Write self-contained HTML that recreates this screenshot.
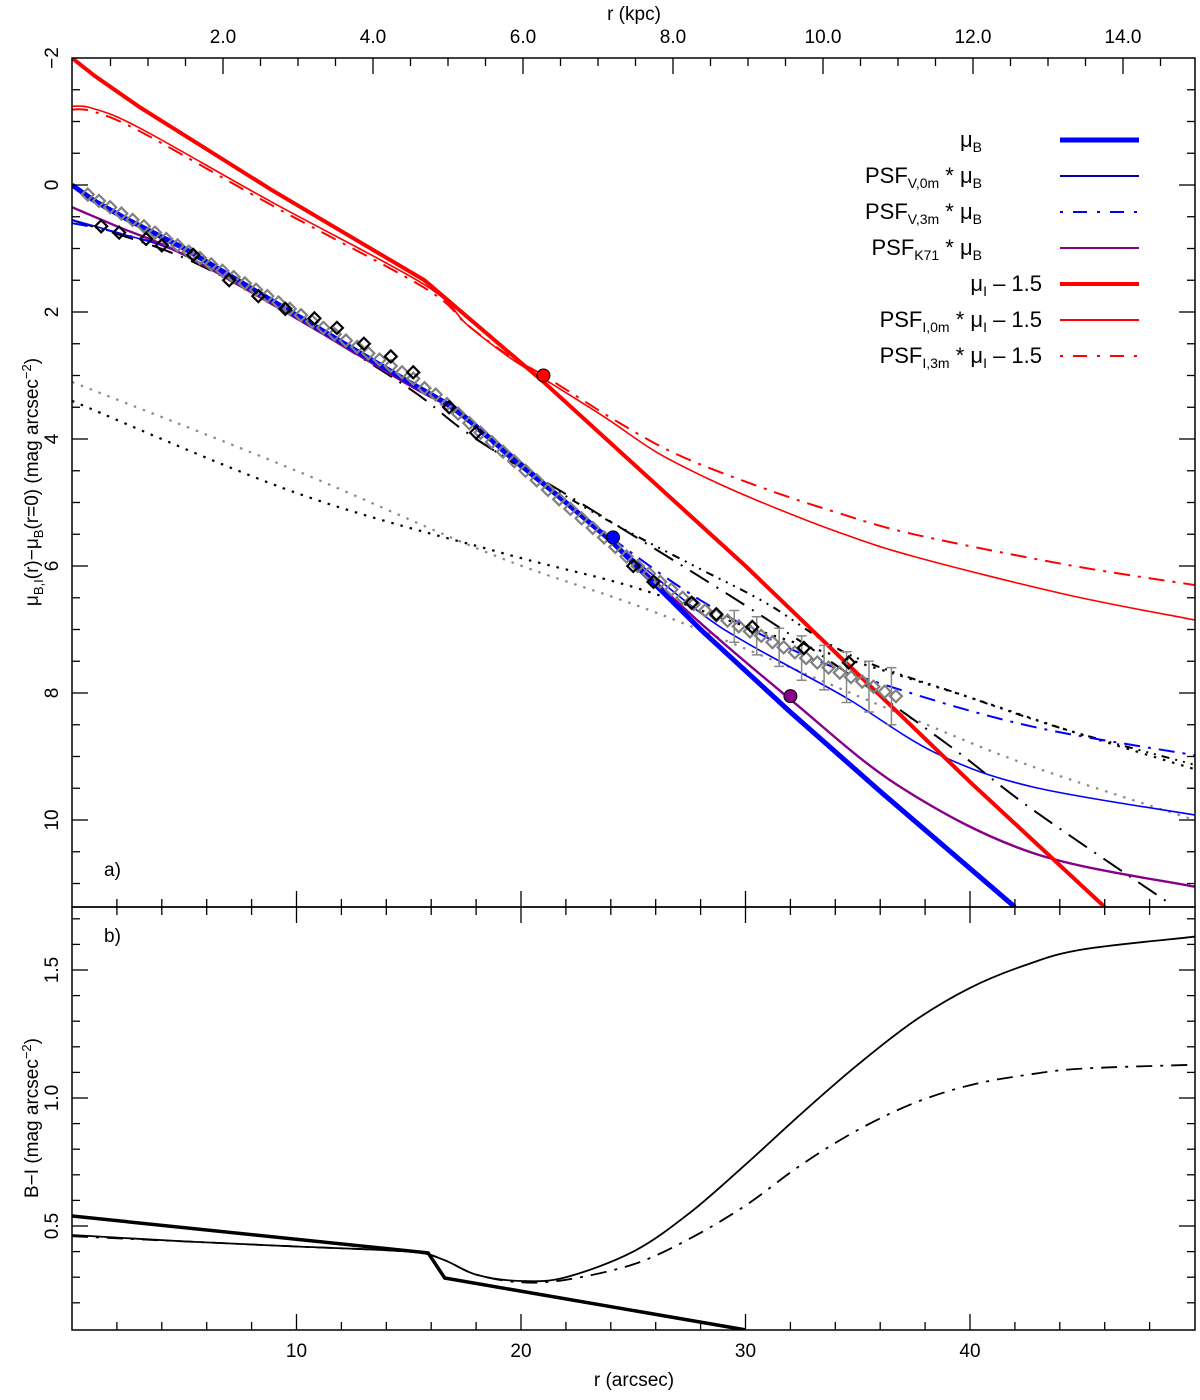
<!DOCTYPE html>
<html><head><meta charset="utf-8"><style>
body{margin:0;background:#fff}
text{font-family:"Liberation Sans",sans-serif;fill:#000}
</style></head><body>
<svg id="s" width="1200" height="1395" viewBox="0 0 1200 1395" xmlns="http://www.w3.org/2000/svg">
<rect x="0" y="0" width="1200" height="1395" fill="#fff"/>
<g id="plot"></g>
<g id="ax"></g>
</svg>
<script>
// ---- data (r in arcsec, mu in mag) ----
const muB_r=[0,1,2.5,5,10,15,17,20,24,28,32,36,42];
const muB_v=[0,0.25,0.55,1.0,2.05,3.1,3.5,4.4,5.6,7.0,8.3,9.55,11.37];
const muI_r=[0,1,3,8.9,15.7,21,30,40,46];
const muI_v=[-2,-1.72,-1.23,0.08,1.5,3.1,6.0,9.4,11.37];
const pI0_r=[0,0.9,3,8.9,15.7,17.6,19.5,21,23.7,26,28.3,30.6,34,37.5,44.3,50];
const pI0_v=[-1.24,-1.21,-0.9,0.27,1.57,2.2,2.72,3.05,3.65,4.2,4.62,4.98,5.45,5.85,6.45,6.85];
const pI3_r=[0,0.9,3,8.9,15.7,17.6,19.5,21,24.4,27,30.6,34,37.5,44.3,50];
const pI3_v=[-1.19,-1.16,-0.85,0.32,1.62,2.2,2.7,3.0,3.75,4.25,4.75,5.15,5.5,5.98,6.3];
const pV0_r=[0,2,5,10,15,17,20,24,28,30,32.4,34.65,38.5,42.8,50];
const pV0_v=[0.55,0.75,1.1,2.1,3.15,3.55,4.45,5.6,6.74,7.2,7.67,8.11,8.95,9.48,9.92];
const pV3_r=[0,2,5,10,15,17,20,24,28,32.4,36.9,42.8,50];
const pV3_v=[0.6,0.75,1.1,2.1,3.15,3.55,4.45,5.55,6.54,7.37,7.95,8.53,8.98];
const pK_r=[0,2,5,10,15,17,20,24,28,32,36.9,42.8,50];
const pK_v=[0.35,0.65,1.1,2.1,3.15,3.55,4.4,5.6,6.9,8.1,9.48,10.52,11.05];
const bA_r=[0,5,10,15,18,23.4,29.9,34.6,39.2,42.8,49];
const bA_v=[0.55,1.15,2.1,3.2,4.0,5.17,6.6,7.7,8.86,9.84,11.34];
const bB_r=[18,22,25,28,31,34.65,39.9,44.3,50];
const bB_v=[4.0,4.9,5.5,6.05,6.6,7.4,8.06,8.58,9.13];
const dG_r=[0,10,19,26.5,37.6,42.8,50];
const dG_v=[3.1,4.5,5.86,6.8,8.43,9.16,10.0];
const dK_r=[0,10,19,25,30,34.65,39.9,44.3,50];
const dK_v=[3.4,4.85,5.78,6.33,6.95,7.48,8.06,8.58,9.2];
const gray_r=[0.7,1.2,1.7,2.2,2.7,3.2,3.7,4.2,4.7,5.2,5.7,6.2,6.7,7.2,7.7,8.2,8.7,9.2,9.7,10.2,10.7,11.2,11.7,12.2,12.7,13.2,13.7,14.2,14.7,15.2,15.7,16.2,16.7,17.2,17.7,18.2,18.7,19.2,19.7,20.2,20.7,21.2,21.7,22.2,22.7,23.2,23.7,24.2,24.7,25.2,25.7,26.2,26.7,27.2,27.7,28.2,28.7,29.2,29.7,30.2,30.7,31.2,31.7,32.2,32.7,33.2,33.7,34.2,34.7,35.2,35.7,36.2,36.7];
const gray_v=[0.15,0.25,0.35,0.45,0.55,0.65,0.75,0.85,0.95,1.05,1.15,1.25,1.35,1.45,1.55,1.65,1.75,1.85,1.95,2.05,2.15,2.25,2.35,2.45,2.55,2.65,2.75,2.85,2.95,3.05,3.2,3.3,3.45,3.6,3.75,3.9,4.05,4.2,4.35,4.5,4.65,4.8,4.95,5.1,5.25,5.4,5.55,5.7,5.85,6.0,6.12,6.25,6.37,6.5,6.6,6.7,6.78,6.86,6.95,7.03,7.1,7.2,7.28,7.36,7.45,7.52,7.6,7.68,7.75,7.82,7.9,7.98,8.05];
const blk_r=[1.3,2.1,3.3,4.0,5.4,7.0,8.3,9.5,10.8,11.8,13.0,14.2,15.2,16.8,18.0,25.0,25.9,27.6,28.7,30.3,32.6,34.6];
const blk_v=[0.65,0.75,0.85,0.95,1.1,1.5,1.75,1.95,2.1,2.25,2.5,2.7,2.95,3.5,3.9,6.0,6.25,6.58,6.76,6.96,7.29,7.52];
const err_r=[29.5,30.5,31.5,32.5,33.5,34.5,35.5,36.5];
const err_v=[0.25,0.3,0.3,0.35,0.35,0.4,0.4,0.45];
// bottom panel B-I
const ci0_r=[0,15.86,16.6,30];
const ci0_v=[0.539,0.395,0.297,0.094];
const ci1_r=[0,5,10,15,16.5,18,20,22,25,27.5,30,32.5,35,37.5,40,42.5,45,50];
const ci1_v=[0.465,0.44,0.42,0.4,0.37,0.31,0.285,0.3,0.4,0.55,0.74,0.94,1.13,1.3,1.43,1.52,1.58,1.63];
const ci2_r=[0,5,10,15,16.5,18,20,22,25,27.5,30,32.5,35,37.5,40,42.5,45,50];
const ci2_v=[0.46,0.44,0.42,0.4,0.37,0.31,0.28,0.29,0.35,0.45,0.58,0.74,0.875,0.98,1.05,1.09,1.115,1.13];
const xTicks=[10,20,30,40];
const kpcTicks=[2,4,6,8,10,12,14];
const yTicks=[-2,0,2,4,6,8,10];
const ybTicks=[0.5,1.0,1.5];

// ---- scales ----
const X=r=>72+22.45*r, Y=m=>185+63.5*m, YB=c=>1226-256*(c-0.5), XK=k=>73+75*k;
const NS='http://www.w3.org/2000/svg';
const plot=document.getElementById('plot'), ax=document.getElementById('ax');
function mk(tag,at,par){const e=document.createElementNS(NS,tag);for(const k in at)e.setAttribute(k,at[k]);(par||plot).appendChild(e);return e;}
function smoothPath(P){
  let d='M'+P[0][0].toFixed(1)+','+P[0][1].toFixed(1);
  for(let i=0;i<P.length-1;i++){
    const p0=P[i-1]||P[i],p1=P[i],p2=P[i+1],p3=P[i+2]||P[i+1];
    const c1=[p1[0]+(p2[0]-p0[0])/6,p1[1]+(p2[1]-p0[1])/6];
    const c2=[p2[0]-(p3[0]-p1[0])/6,p2[1]-(p3[1]-p1[1])/6];
    d+='C'+c1.map(v=>v.toFixed(1)).join(',')+' '+c2.map(v=>v.toFixed(1)).join(',')+' '+p2.map(v=>v.toFixed(1)).join(',');
  }
  return d;
}
function line(rs,vs,ys,col,w,dash,name,smooth){
  const P=rs.map((r,i)=>[X(r),ys(vs[i])]);
  const d=smooth?smoothPath(P):P.map((p,i)=>(i?'L':'M')+p[0].toFixed(1)+','+p[1].toFixed(1)).join('');
  const p=mk('path',{d:d,fill:'none',stroke:col,'stroke-width':w,'stroke-dasharray':dash||'none','clip-path':ys===Y?'url(#ct)':'url(#cb)'});
  
  
}
const defs=mk('defs',{});
const c1=mk('clipPath',{id:'ct'},defs);mk('rect',{x:72,y:58,width:1123,height:849},c1);
const c2=mk('clipPath',{id:'cb'},defs);mk('rect',{x:72,y:907,width:1123,height:423},c2);

line(dG_r,dG_v,Y,'#888',2.2,'2.5,7','dotted-gray-line',true);
line(dK_r,dK_v,Y,'#000',2.2,'2.5,7','dotted-black-line',true);
line(bA_r,bA_v,Y,'#000',2,'22,9,2,9','black-long-dash-line',true);
line(bB_r,bB_v,Y,'#000',2,'8,6,2,6,2,6,2,6','black-dash-dot-line',true);
line(pI3_r,pI3_v,Y,'#f00',2,'16,8,3,8','psf-i-3m-line',true);
line(pI0_r,pI0_v,Y,'#f00',1.6,null,'psf-i-0m-line',true);
line(pV3_r,pV3_v,Y,'#00f',2,'16,8,3,8','psf-v-3m-line',true);
line(pV0_r,pV0_v,Y,'#00f',1.6,null,'psf-v-0m-line',true);
line(pK_r,pK_v,Y,'#808',2.4,null,'psf-k71-line',true);
line(muB_r,muB_v,Y,'#00f',5,null,'mu-b-line',false);
line(muI_r,muI_v,Y,'#f00',4,null,'mu-i-line',false);
// error bars
err_r.forEach((r,i)=>{
  const v=gray_v[gray_r.findIndex(g=>g>=r)]||8;
  const e=mk('path',{d:`M${X(r)},${Y(v-err_v[i])}V${Y(v+err_v[i])}M${X(r)-5},${Y(v-err_v[i])}h10M${X(r)-5},${Y(v+err_v[i])}h10`,stroke:'#888','stroke-width':1.5,fill:'none'});
  
  
});
function diamond(r,v,col,name){
  const x=X(r),y=Y(v);
  const e=mk('path',{d:`M${x},${y-6}L${x+6},${y}L${x},${y+6}L${x-6},${y}Z`,fill:'none',stroke:col,'stroke-width':2.2});
  
  
}
gray_r.forEach((r,i)=>diamond(r,gray_v[i],'#808080','gray-data-point'));
blk_r.forEach((r,i)=>diamond(r,blk_v[i],'#000','black-data-point'));
[[21,3.0,'#f00'],[24.1,5.55,'#00f'],[32,8.05,'#808']].forEach(([r,v,c])=>{
  const e=mk('circle',{cx:X(r),cy:Y(v),r:6.5,fill:c,stroke:'#000','stroke-width':1});
  
  
});
line(ci0_r,ci0_v,YB,'#000',3.5,null,'color-profile-thick',false);
line(ci1_r,ci1_v,YB,'#000',1.8,null,'color-profile-0m',true);
line(ci2_r,ci2_v,YB,'#000',1.8,'16,8,3,8','color-profile-3m',true);

// ---- axes ----
mk('rect',{x:72,y:58,width:1123,height:849,fill:'none',stroke:'#000','stroke-width':1.5},ax);
mk('rect',{x:72,y:907,width:1123,height:423,fill:'none',stroke:'#000','stroke-width':1.5},ax);
function tk(x1,y1,x2,y2){mk('line',{x1,y1,x2,y2,stroke:'#000','stroke-width':1.3},ax);}
function tx(x,y,s,anchor,name,rot){const t=mk('text',{x,y,'font-size':19,'text-anchor':anchor||'middle'},ax);if(rot)t.setAttribute('transform',`rotate(-90 ${x} ${y})`);t.textContent=s;return t;}
for(let r=2;r<50;r+=2){const maj=r%10===0;tk(X(r),1330,X(r),1330-(maj?16:8));tk(X(r),907,X(r),907-(maj?16:8));tk(X(r),907,X(r),907+(maj?16:8));}
xTicks.forEach(r=>tx(X(r),1357,String(r),'middle','x-tick-label'));
for(let k=0.5;k<15;k+=0.5){const maj=k%2===0;tk(XK(k),58,XK(k),58+(maj?16:8));}
kpcTicks.forEach(k=>tx(XK(k),43,k.toFixed(1),'middle','kpc-tick-label'));
for(let m=-1.5;m<11.4;m+=0.5){const maj=m%2===0;tk(72,Y(m),72+(maj?16:8),Y(m));tk(1195,Y(m),1195-(maj?16:8),Y(m));}
yTicks.forEach(m=>tx(58,Y(m),m<0?'−'+(-m):String(m),'middle','y-tick-label',true));
for(let c=0.2;c<1.75;c+=0.1){const maj=Math.abs(c*2-Math.round(c*2))<1e-6;tk(72,YB(c),72+(maj?16:8),YB(c));tk(1195,YB(c),1195-(maj?16:8),YB(c));}
ybTicks.forEach(c=>tx(58,YB(c),c.toFixed(1),'middle','yb-tick-label',true));
tx(634,1386,'r (arcsec)','middle','x-axis-title');
tx(634,20,'r (kpc)','middle','kpc-axis-title');
const yt=tx(38,482,'','middle','y-axis-title',true);
yt.innerHTML='μ<tspan font-size="13" dy="5">B,I</tspan><tspan dy="-5">(r)−μ</tspan><tspan font-size="13" dy="5">B</tspan><tspan dy="-5">(r=0) (mag arcsec</tspan><tspan font-size="13" dy="-7">−2</tspan><tspan dy="7">)</tspan>';
const yb=tx(38,1118,'','middle','yb-axis-title',true);
yb.innerHTML='B−I (mag arcsec<tspan font-size="13" dy="-7">−2</tspan><tspan dy="7">)</tspan>';
tx(104,876,'a)','start','panel-a-label');
tx(104,942,'b)','start','panel-b-label');
// legend
const leg=[['μ<tspan font-size="14" dy="5">B</tspan>','#00f',5,null],
['PSF<tspan font-size="14" dy="5">V,0m</tspan><tspan dy="-5"> * μ</tspan><tspan font-size="14" dy="5">B</tspan>','#00a',2,null],
['PSF<tspan font-size="14" dy="5">V,3m</tspan><tspan dy="-5"> * μ</tspan><tspan font-size="14" dy="5">B</tspan>','#00f',2,'3,10,14,10'],
['PSF<tspan font-size="14" dy="5">K71</tspan><tspan dy="-5"> * μ</tspan><tspan font-size="14" dy="5">B</tspan>','#808',2,null],
['μ<tspan font-size="14" dy="5">I</tspan><tspan dy="-5"> – 1.5</tspan>','#f00',4,null],
['PSF<tspan font-size="14" dy="5">I,0m</tspan><tspan dy="-5"> * μ</tspan><tspan font-size="14" dy="5">I</tspan><tspan dy="-5"> – 1.5</tspan>','#f00',2,null],
['PSF<tspan font-size="14" dy="5">I,3m</tspan><tspan dy="-5"> * μ</tspan><tspan font-size="14" dy="5">I</tspan><tspan dy="-5"> – 1.5</tspan>','#f00',2,'3,10,14,10']];
leg.forEach((L,i)=>{
  const y=140+36*i;
  const anchorX=i<4?982:1042;
  const t=tx(anchorX,y+7,'','end','legend-label');
  t.setAttribute('font-size','22');
  t.innerHTML=L[0];
  const l=mk('line',{x1:1060,y1:y,x2:1139,y2:y,stroke:L[1],'stroke-width':L[2],'stroke-dasharray':L[3]||'none'},ax);
  
  
});
</script>
</body></html>
